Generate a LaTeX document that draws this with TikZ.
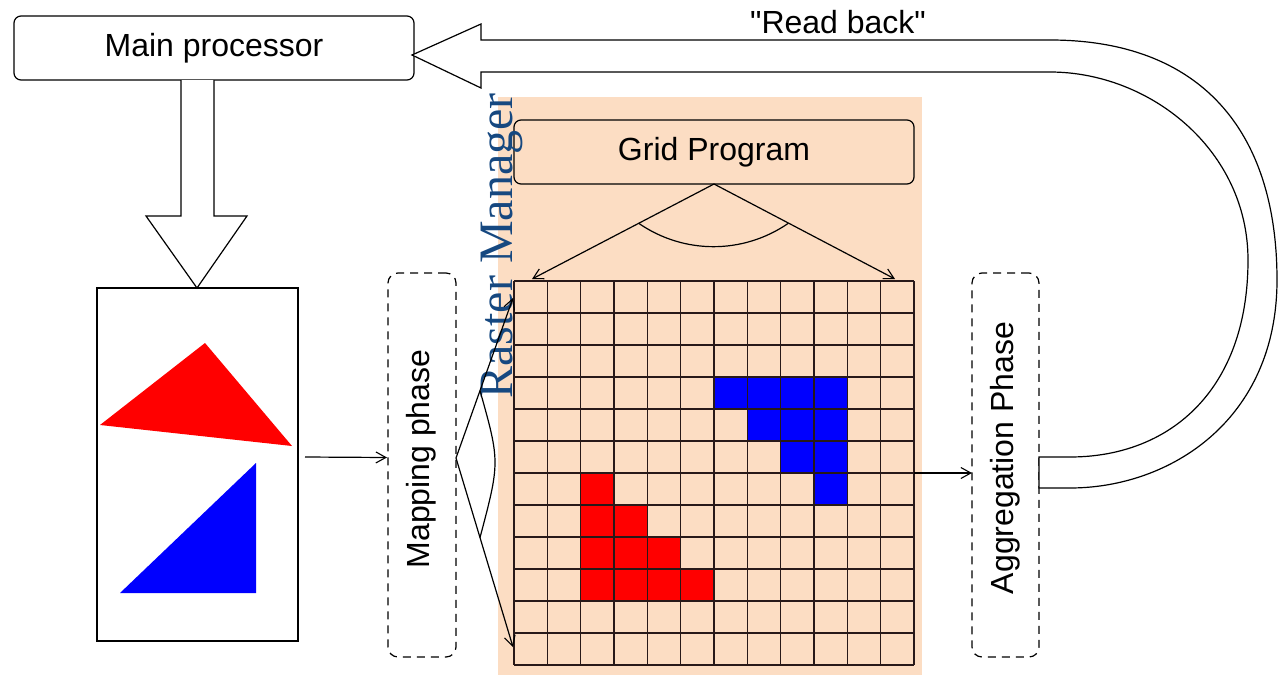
\documentclass[tikz,border=0pt]{standalone}
\usepackage{fontspec}
\setmainfont{Liberation Sans}[Ligatures=TeXOff]
\newfontfamily\rmserif{Liberation Serif}
\usetikzlibrary{arrows.meta}
\definecolor{peach}{RGB}{252,221,195}
\definecolor{rmblue}{RGB}{22,72,128}
\definecolor{gridink}{RGB}{40,25,25}
\begin{document}
\begin{tikzpicture}[x=1pt,y=-1pt,
  every node/.style={inner sep=0pt, outer sep=0pt},
  lbl/.style={font=\fontsize{32}{36}\selectfont},
  ln/.style={line width=1.2pt},
  pbox/.style={draw, ln, rounded corners=7pt, minimum width=400pt, minimum height=64pt, lbl},
  phase/.style={draw, ln, dash pattern=on 8pt off 6pt, rounded corners=10pt, minimum height=384pt},
  barb/.style={ln, -{Straight Barb[length=10pt,width=11pt,line width=1.1pt]}},
  gridln/.style={line width=1.2pt, draw=gridink},
  block/.style={ln, draw=black, fill=white, line join=miter}
]
\useasboundingbox (0,0) rectangle (1278,675);

% Raster manager background
\fill[peach] (498,97) rectangle (922,675);

% main processor
\node[pbox] (main) at (214,48) {Main processor};

% image box with triangles
\node[draw, ln, minimum width=201pt, minimum height=353pt] (img) at (197.5,464.5) {};
\fill[red] (100,425) -- (205,343) -- (292,446) -- cycle;
\fill[blue] (120,593) -- (256,463) -- (256,593) -- cycle;

% down block arrow
\draw[block] (181,80) -- (181,216) -- (146,216) -- (197,288) -- (247,216) -- (214,216) -- (214,80);

% grid program
\node[pbox, fill=peach] (gp) at (714,152) {Grid Program};

% grid cells
\fill[blue] (714,377) -- (847.33,377) -- (847.33,505) -- (814,505) -- (814,473) -- (780.67,473) -- (780.67,441) -- (747.33,441) -- (747.33,409) -- (714,409) -- cycle;
\fill[red] (580.67,473) -- (614,473) -- (614,505) -- (647.33,505) -- (647.33,537) -- (680.67,537) -- (680.67,569) -- (714,569) -- (714,601) -- (580.67,601) -- cycle;
\foreach \i in {0,...,12} {
  \draw[gridln] ({514+\i*400/12},281) -- ({514+\i*400/12},665);
  \draw[gridln] (514,{281+\i*32}) -- (914,{281+\i*32});
}
\node[minimum width=400pt, minimum height=384pt] (grid) at (714,473) {};

% phase boxes
\node[phase, minimum width=68pt] (map) at (422,465) {};
\node[lbl, rotate=90] (maptxt) at (421,459) {Mapping phase};
\node[phase, minimum width=67pt] (agg) at (1005.5,465) {};
\node[lbl, rotate=90] (aggtxt) at (1005,458) {Aggregation Phase};

% Raster Manager label
\node[font=\rmserif\fontsize{48}{50}\selectfont, text=rmblue, rotate=90, anchor=base] (rm) at (512,246) {Raster Manager};

% connectors
\draw[barb] ([shift={(7,-7.5)}]img.east) -- ([shift={(-1,-7.5)}]map.west);
\coordinate (mapapex) at (456,458);
\coordinate (gtop) at (513,298);
\coordinate (gbot) at (513,647);
\draw[barb] (mapapex) -- (gtop);
\draw[barb] (mapapex) -- (gbot);
\draw[ln] (480,390.6) .. controls (500,462) .. (480,537.6);

\coordinate (gpl) at (532,279);
\coordinate (gpr) at (895,279);
\draw[barb] (gp.south) -- (gpl);
\draw[barb] (gp.south) -- (gpr);
\draw[ln] (639,223.5) .. controls (684,254.4) and (743,254.4) .. (788,223.5);

\draw[barb] (grid.east) -- (agg.west |- grid.east);

% read back block arrow
\draw[block] (412,55) -- (481,24) -- (481,40) -- (1050,40)
  .. controls (1200,40) and (1277,130) .. (1277,280)
  .. controls (1277,420) and (1170,488) .. (1070,488)
  -- (1039,488) -- (1039,457) -- (1070,457)
  .. controls (1170,457) and (1248,390) .. (1248,260)
  .. controls (1248,150) and (1150,72) .. (1050,72)
  -- (481,72) -- (481,88) -- cycle;
\node[lbl] (rb) at (838,22) {"Read back"};
\end{tikzpicture}
\end{document}
